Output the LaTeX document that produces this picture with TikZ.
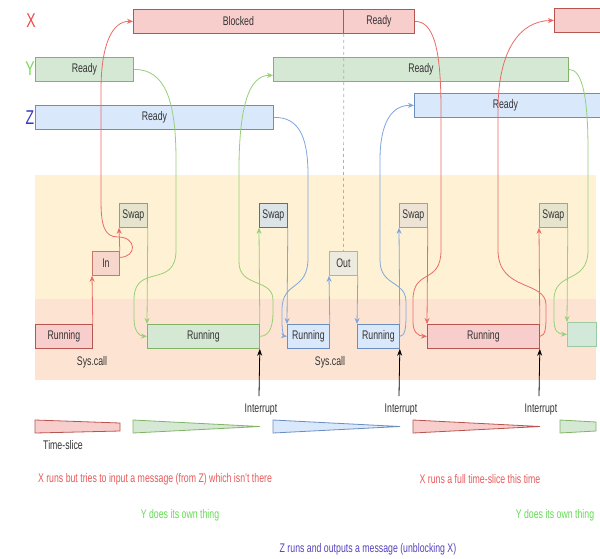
\documentclass[tikz,border=0pt]{standalone}
\usepackage{fontspec}
\setmainfont{Liberation Sans}[FakeStretch=0.7]
\usetikzlibrary{arrows.meta}
\definecolor{rfill}{HTML}{F8CECC}\definecolor{rstroke}{HTML}{B85450}
\definecolor{gfill}{HTML}{D5E8D4}\definecolor{gstroke}{HTML}{82B366}
\definecolor{bfill}{HTML}{DAE8FC}\definecolor{bstroke}{HTML}{6C8EBF}
\definecolor{rline}{HTML}{EA6B66}\definecolor{gline}{HTML}{97D077}
\definecolor{bline}{HTML}{7EA6E0}
\definecolor{infill}{HTML}{F7D7CB}\definecolor{instroke}{HTML}{C9776B}
\definecolor{bandY}{HTML}{FEF1D4}\definecolor{bandO}{HTML}{FDE4D2}
\definecolor{txt}{HTML}{333333}
\definecolor{labX}{HTML}{F04848}\definecolor{labY}{HTML}{77DD55}\definecolor{labZ}{HTML}{3838C8}
\definecolor{senR}{HTML}{E85A5A}\definecolor{senG}{HTML}{66DD55}\definecolor{senB}{HTML}{5544BB}
\definecolor{dashcol}{HTML}{9DB3D0}
\begin{document}
\begin{tikzpicture}[x=1pt,y=-1pt,
  box/.style={draw, rectangle, anchor=north west, inner sep=0pt, line width=0.8pt,
    minimum height=24pt, font=\fontsize{12.5}{14}\selectfont, text=txt},
  redbox/.style={box, fill=rfill, draw=rstroke},
  greenbox/.style={box, fill=gfill, draw=gstroke},
  bluebox/.style={box, fill=bfill, draw=bstroke},
  swapbox/.style={box, minimum width=28pt},
  lbl/.style={inner sep=0pt, font=\fontsize{12.5}{14}\selectfont, text=txt},
  big/.style={inner sep=0pt, font=\fontsize{20}{22}\selectfont},
  sen/.style={inner sep=0pt, font=\fontsize{12.5}{14}\selectfont},
  tip/.style={-{Stealth[length=6pt,width=5pt]}, line width=0.8pt},
  rarr/.style={tip, draw=rline},
  garr/.style={tip, draw=gline},
  barr/.style={tip, draw=bline},
  iarr/.style={-{Stealth[length=7pt,width=5pt]}, line width=0.8pt, draw=black},
  slice/.style={line width=0.8pt}
]
\useasboundingbox (0,0) rectangle (600,558);
\fill[white] (0,0) rectangle (600,558);
% bands
\fill[bandY] (35,175) rectangle (596,299);
\fill[bandO] (35,299) rectangle (596,380);

% process labels
\node[big, text=labX] (lx) at (31,21) {X};
\node[big, text=labY] (ly) at (30,69) {Y};
\node[big, text=labZ] (lz) at (30,118) {Z};

% top bars
\node[redbox, minimum width=210pt] (xblk) at (133,9) {Blocked};
\node[redbox, minimum width=71pt] (xrdy) at (343,9) {Ready};
\node[redbox, minimum width=52pt] (xr2) at (554,8) {};
\node[greenbox, minimum width=98pt] (yr1) at (35,57) {Ready};
\node[greenbox, minimum width=295pt] (yr2) at (273,57) {Ready};
\node[bluebox, minimum width=238pt] (zr1) at (35,105) {Ready};
\node[bluebox, minimum width=192pt] (zr2) at (414,93) {Ready\hspace*{10pt}};

% middle boxes
\node[redbox, minimum width=57pt] (runx) at (35,324) {Running};
\node[box, fill=infill, draw=instroke, minimum width=27pt] (in) at (92,251) {In};
\node[swapbox, fill={rgb,255:red,230;green,228;blue,204}, draw={rgb,255:red,143;green,160;blue,122}] (sw1) at (119,203) {Swap};
\node[greenbox, minimum width=112pt] (runy) at (147,324) {Running};
\node[swapbox, fill={rgb,255:red,220;green,228;blue,232}, draw={rgb,255:red,95;green,111;blue,128}] (sw2) at (259,203) {Swap};
\node[bluebox, minimum width=42pt] (runz) at (287,324) {Running};
\node[box, minimum width=28pt, fill={rgb,255:red,237;green,234;blue,224}, draw={rgb,255:red,176;green,176;blue,176}] (out) at (329,251) {Out};
\node[bluebox, minimum width=42pt] (runz2) at (357,324) {Running};
\node[swapbox, fill={rgb,255:red,238;green,228;blue,214}, draw={rgb,255:red,160;green,160;blue,160}] (sw3) at (399,203) {Swap};
\node[redbox, minimum width=112pt] (runx2) at (427,324) {Running};
\node[swapbox, fill={rgb,255:red,230;green,228;blue,204}, draw={rgb,255:red,154;green,168;blue,136}] (sw4) at (539,203) {Swap};
\node[box, fill={rgb,255:red,210;green,232;blue,216}, draw={rgb,255:red,156;green,202;blue,160}, minimum width=29pt] (runy2) at (567,322) {};

% dashed line
\draw[dashcol, dashed, line width=0.7pt] (xblk.south east) -- (out.north);

% straight arrows
\draw[rarr] (runx.north east) -- (in.south west);
\draw[rarr] (in.north east) -- (sw1.south west);
\draw[garr] (sw1.south east) -- (runy.north west);
\draw[garr] (runy.north east) -- (sw2.south west);
\draw[barr] (sw2.south east) -- (runz.north west);
\draw[barr] (runz.north east) -- (out.south west);
\draw[barr] (out.south east) -- (runz2.north west);
\draw[barr] (runz2.north east) -- (sw3.south west);
\draw[rarr] (sw3.south east) -- (runx2.north west);
\draw[rarr] (runx2.north east) -- (sw4.south west);
\draw[garr] (sw4.south east) -- (runy2.north west);

% curved arrows
\draw[rarr] ([yshift=6pt]in.east) .. controls (137,257) and (137,237) .. (118,237)
  .. controls (104,237) and (101,225) .. (101,200) -- (101,90)
  .. controls (101,45) and (112,21) .. (xblk.west);
\draw[garr] (yr1.east) .. controls (165,69) and (176,100) .. (176,160) -- (176,250)
  .. controls (176,290) and (134,262) .. (134,300) -- (134,318)
  .. controls (134,331) and (139,336) .. (runy.west);
\draw[garr] (runy.east) .. controls (270,336) and (273,326) .. (273,312) -- (273,300)
  .. controls (273,278) and (239,288) .. (239,262) -- (239,170)
  .. controls (239,110) and (248,75) .. ([yshift=-6pt]yr2.west);
\draw[barr] (zr1.east) .. controls (298,117) and (308,135) .. (308,175) -- (308,258)
  .. controls (308,292) and (282,280) .. (282,310) -- (282,322)
  .. controls (282,332) and (284,336) .. (runz.west);
\draw[barr] (runz2.east) .. controls (405,336) and (406,328) .. (406,316) -- (406,302)
  .. controls (406,280) and (380,287) .. (380,260) -- (380,160)
  .. controls (380,122) and (392,105) .. (zr2.west);
\draw[rarr] (xrdy.east) .. controls (434,21) and (441,50) .. (441,110) -- (441,250)
  .. controls (441,285) and (413,268) .. (413,300) -- (413,322)
  .. controls (413,332) and (418,336) .. (runx2.west);
\draw[rarr] (runx2.east) .. controls (546,336) and (546,326) .. (546,314) -- (546,305)
  .. controls (546,280) and (498,292) .. (498,250) -- (498,110)
  .. controls (498,50) and (520,21) .. (xr2.west);
\draw[garr] (yr2.east) .. controls (583,69) and (588,100) .. (588,150) -- (588,250)
  .. controls (588,285) and (554,270) .. (554,300) -- (554,320)
  .. controls (554,331) and (558,334) .. (runy2.west);

% interrupts
\coordinate (i1) at (259,396);
\coordinate (i2) at (399,396);
\coordinate (i3) at (539,396);
\draw[iarr] (i1) -- (runy.south east);
\draw[iarr] (i2) -- (runz2.south east);
\draw[iarr] (i3) -- (runx2.south east);
\node[lbl] (il1) at (261,409) {Interrupt};
\node[lbl] (il2) at (401,409) {Interrupt};
\node[lbl] (il3) at (541,409) {Interrupt};

\node[lbl] (sc1) at (92,362) {Sys.call};
\node[lbl] (sc2) at (330,362) {Sys.call};

% time slices
\filldraw[slice, fill=rfill, draw=rstroke] (35,420) -- (120,423) -- (120,431) -- (35,433) -- cycle;
\filldraw[slice, fill=gfill, draw=gstroke] (133,420) -- (260,426.5) -- (133,433) -- cycle;
\filldraw[slice, fill=bfill, draw=bstroke] (273,420) -- (400,426.5) -- (273,433) -- cycle;
\filldraw[slice, fill=rfill, draw=rstroke] (413,420) -- (540,426.5) -- (413,433) -- cycle;
\filldraw[slice, fill=gfill, draw=gstroke] (560,420) -- (596,422) -- (596,431) -- (560,433) -- cycle;
\node[lbl] (ts) at (63,445) {Time-slice};

% sentences
\node[sen, text=senR] (s1) at (155,479) {X runs but tries to input a message (from Z) which isn't there};
\node[sen, text=senG] (s2) at (180,515) {Y does its own thing};
\node[sen, text=senB] (s3) at (368,549) {Z runs and outputs a message (unblocking X)};
\node[sen, text=senR] (s4) at (480,479) {X runs a full time-slice this time};
\node[sen, text=senG] (s5) at (555,515) {Y does its own thing};
\end{tikzpicture}
\end{document}
